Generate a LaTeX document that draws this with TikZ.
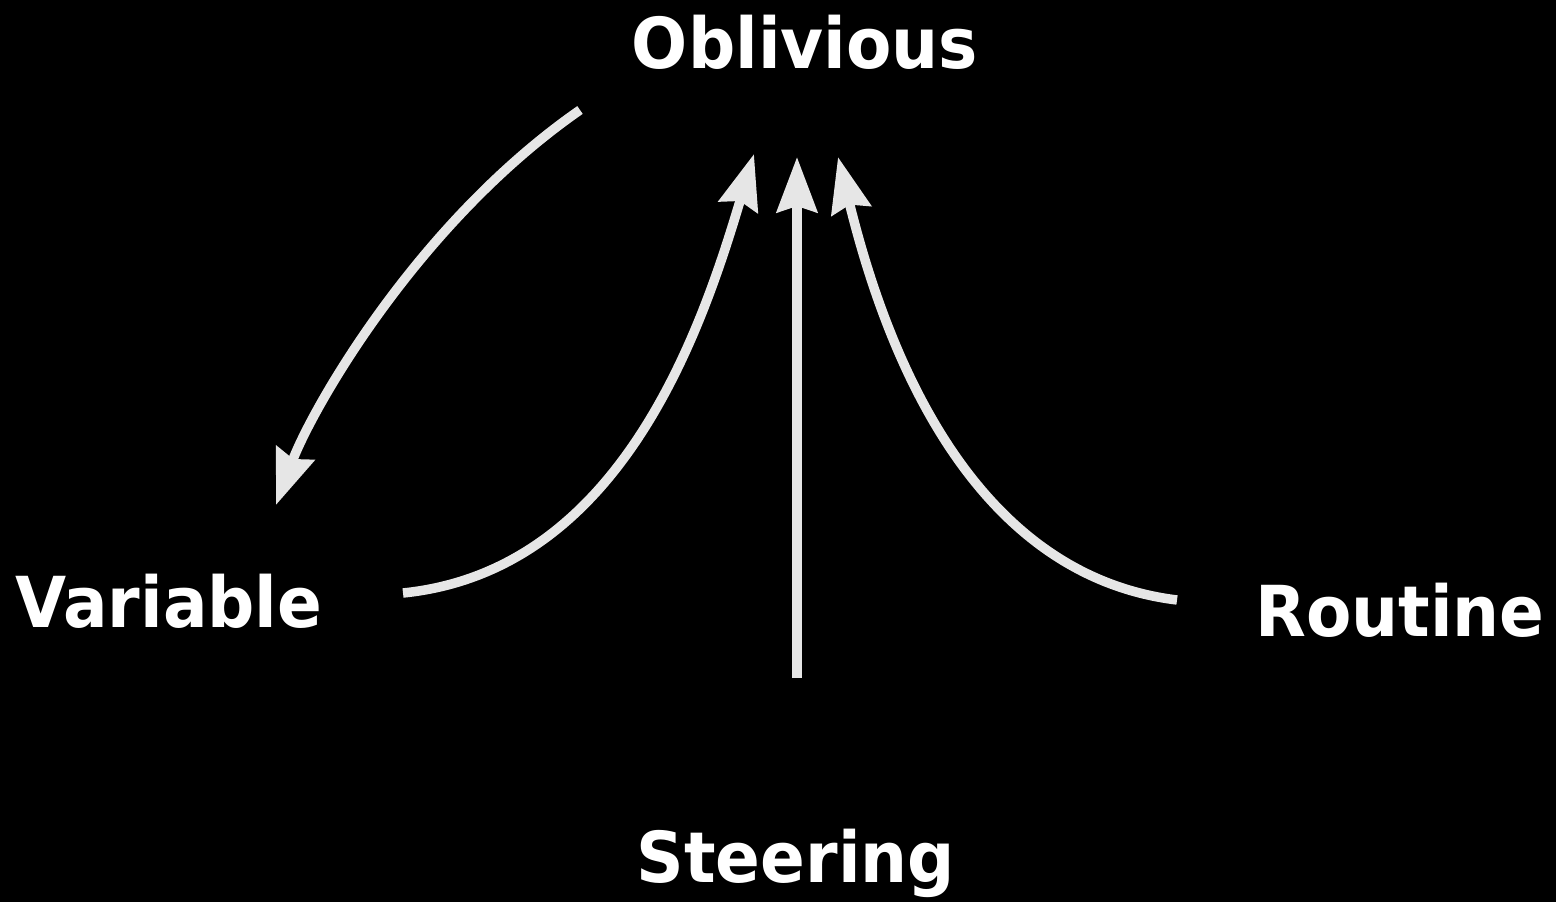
\documentclass[tikz,border=0pt]{standalone}
\usepackage{fontspec}
\setmainfont{DejaVu Sans}[FakeStretch=0.94]
\usepackage{xcolor}
\definecolor{arrowgray}{HTML}{E6E6E6}
\usetikzlibrary{arrows.meta}

\begin{document}
\begin{tikzpicture}[
  x=0.02cm, y=-0.02cm,
  term/.style={text=white,font=\fontsize{40}{48}\selectfont\bfseries,
               inner sep=0pt,anchor=base},
  arrow/.style={-{Stealth[length=1.1cm,width=0.8cm,inset=0.12cm]},
                line width=0.19cm,color=arrowgray},
]
  \fill[black] (0,0) rectangle (1556,902);
  \useasboundingbox (0,0) rectangle (1556,902);

  \node[term] (obl)   at (805,69)  {Oblivious};
  \node[term] (var)   at (169,627) {Variable};
  \node[term] (rout)  at (1400,636) {Routine};
  \node[term] (steer) at (796,882) {Steering};

  % arrow ends
  \coordinate (obl-out)  at (580,110);
  \coordinate (var-in)   at (276,505);
  \coordinate (var-out)  at (403,593);
  \coordinate (obl-in1)  at (754,154);
  \coordinate (steer-out) at (797,678);
  \coordinate (obl-in2)  at (797,157);
  \coordinate (rout-out) at (1177,600);
  \coordinate (obl-in3)  at (838,157);

  \draw[arrow] (obl-out) .. controls (416,224) and (311,411) .. (var-in);
  \draw[arrow] (var-out) .. controls (620,571) and (701,332) .. (obl-in1);
  \draw[arrow] (steer-out) -- (obl-in2);
  \draw[arrow] (rout-out) .. controls (964,574) and (882,335) .. (obl-in3);
\end{tikzpicture}
\end{document}
